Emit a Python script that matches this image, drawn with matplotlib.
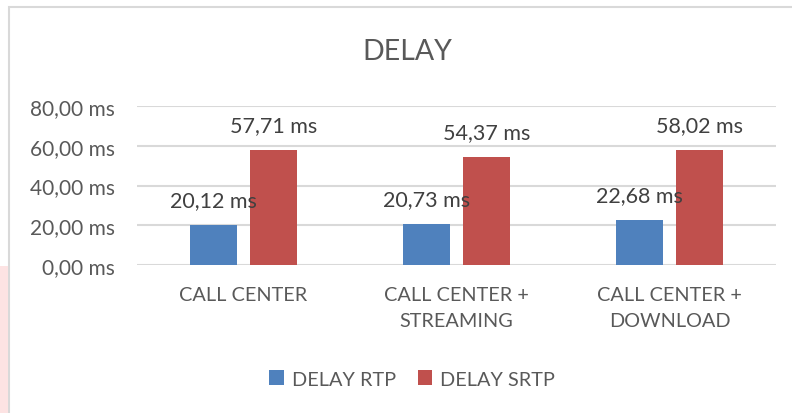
import numpy as np
import matplotlib.pyplot as plt
from matplotlib.patches import Rectangle

categories = ["CALL CENTER", "CALL CENTER +\nSTREAMING", "CALL CENTER +\nDOWNLOAD"]
delay_rtp = [20.12, 20.73, 22.68]
delay_srtp = [57.71, 54.37, 58.02]
series_names = ["DELAY RTP", "DELAY SRTP"]
y_ticks = [0, 20, 40, 60, 80]

blue = "#4F81BD"
red = "#C0504D"
text_col = "#595959"


def fmt(v):
    return f"{v:.2f}".replace(".", ",") + " ms"


plt.rcParams['font.family'] = ['Lato', 'DejaVu Sans']

fig = plt.figure(figsize=(7.92, 4.14), dpi=100)
ax = fig.add_axes([137 / 792, 1 - 266 / 414, (776 - 137) / 792, (266 - 107) / 414])

x = np.arange(len(categories))
w = 0.22
off = 0.14
b1 = ax.bar(x - off, delay_rtp, w, color=blue, label=series_names[0], zorder=3)
b2 = ax.bar(x + off, delay_srtp, w, color=red, label=series_names[1], zorder=3)

for bars, vals in [(b1, delay_rtp), (b2, delay_srtp)]:
    for r, v in zip(bars, vals):
        ax.annotate(fmt(v), (r.get_x() + r.get_width() / 2, v), xytext=(0, 18),
                    textcoords="offset points", ha="center", va="center",
                    fontsize=15.5, color="#404040", zorder=4)

ax.set_xlim(-0.5, 2.5)
ax.set_ylim(0, 80)
ax.set_yticks(y_ticks)
ax.set_yticklabels([fmt(t) for t in y_ticks], fontsize=15, color=text_col)
ax.set_xticks(x)
ax.set_xticklabels(categories, fontsize=14.3, color=text_col, linespacing=1.65)
ax.tick_params(length=0)
ax.tick_params(axis="y", pad=16)
ax.tick_params(axis="x", pad=15)
ax.grid(axis="y", color="#D9D9D9", linewidth=1.5, zorder=0)
for s in ax.spines.values():
    s.set_visible(False)

fig.text(407 / 792, 1 - 52 / 414, "DELAY", ha="center", va="center",
         fontsize=20.5, color=text_col)

fig.legend(handles=[b1, b2], labels=series_names, loc="center",
           bbox_to_anchor=(412 / 792, 1 - 380 / 414), ncol=2, frameon=False,
           fontsize=14.3, labelcolor=text_col, handlelength=0.75, handleheight=0.75,
           handletextpad=0.4, columnspacing=1.1)

# chart border and faint strip on the left
fig.patches.append(Rectangle((8.5 / 792, -0.05), 1.1, 1 - 7.5 / 414 + 0.05,
                             transform=fig.transFigure, fill=False,
                             edgecolor="#D9D9D9", linewidth=1.5))
fig.patches.append(Rectangle((0, 0), 7.5 / 792, 1 - 267 / 414,
                             transform=fig.transFigure, color="#FDE3E3", linewidth=0))

fig.savefig("out.png", dpi=100)
plt.close(fig)
